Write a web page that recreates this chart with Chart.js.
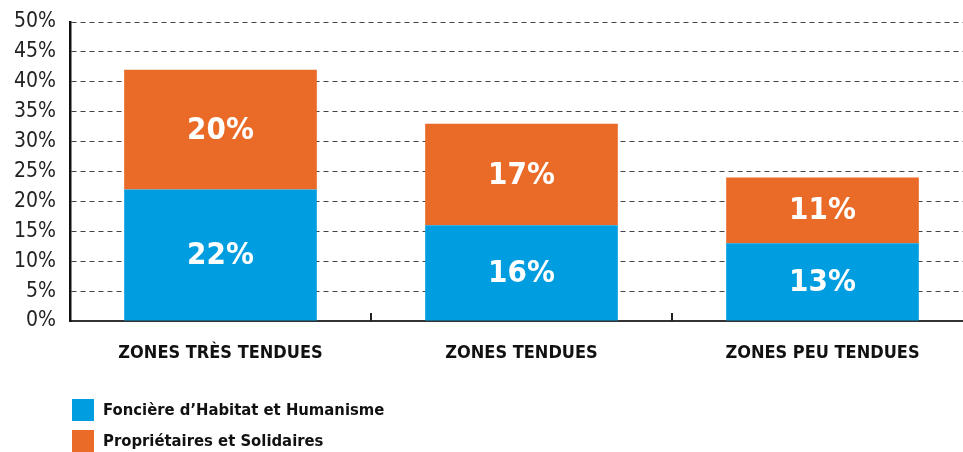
<!DOCTYPE html>
<html>
<head>
<meta charset="utf-8">
<script src="https://cdn.jsdelivr.net/npm/chart.js@4/dist/chart.umd.min.js"></script>
<style>
  html, body { margin: 0; padding: 0; background: #fff; overflow: hidden; }
  #wrap { width: 975px; height: 452px; }
</style>
</head>
<body>
<div id="wrap"><canvas id="chart"></canvas></div>
<script>
const categories = ['ZONES TRÈS TENDUES', 'ZONES TENDUES', 'ZONES PEU TENDUES'];
const foncierValues = [22, 16, 13];
const proprioValues = [20, 17, 11];
const seriesNames = ["Foncière d’Habitat et Humanisme", 'Propriétaires et Solidaires'];
const seriesColors = ['#009ee0', '#ea6a27'];
const yTicks = [0, 5, 10, 15, 20, 25, 30, 35, 40, 45, 50];

const FONT = "'Liberation Sans Narrow', 'DejaVu Sans Condensed', 'Roboto', sans-serif";

// valeurs écrites au centre de chaque segment
const segmentLabels = {
  id: 'segmentLabels',
  afterDatasetsDraw(chart) {
    const ctx = chart.ctx;
    ctx.save();
    ctx.fillStyle = '#fff';
    ctx.font = `bold 31px ${FONT}`;
    ctx.textAlign = 'center';
    ctx.textBaseline = 'middle';
    chart.data.datasets.forEach((ds, di) => {
      chart.getDatasetMeta(di).data.forEach((bar, i) => {
        ctx.fillText(ds.data[i] + '%', bar.x, (bar.y + bar.base) / 2 + 1);
      });
    });
    ctx.restore();
  }
};

// petits traits entre les catégories, tournés vers le haut
const boundaryTicks = {
  id: 'boundaryTicks',
  afterDraw(chart) {
    const x = chart.scales.x, ctx = chart.ctx;
    const bottom = chart.chartArea.bottom;
    ctx.save();
    ctx.strokeStyle = '#222';
    ctx.lineWidth = 2;
    for (let i = 0; i < categories.length - 1; i++) {
      const px = (x.getPixelForValue(i) + x.getPixelForValue(i + 1)) / 2;
      ctx.beginPath();
      ctx.moveTo(px, bottom);
      ctx.lineTo(px, bottom - 8);
      ctx.stroke();
    }
    ctx.restore();
  }
};

// légende verticale en bas à gauche
const stackedLegend = {
  id: 'stackedLegend',
  afterDraw(chart) {
    const ctx = chart.ctx;
    const left = chart.chartArea.left + 2;
    ctx.save();
    ctx.font = `bold 16.5px ${FONT}`;
    ctx.textBaseline = 'middle';
    ctx.textAlign = 'left';
    seriesNames.forEach((name, i) => {
      const cy = 410 + i * 31;
      ctx.fillStyle = seriesColors[i];
      ctx.fillRect(left, cy - 11, 22, 22);
      ctx.fillStyle = '#111';
      ctx.fillText(name, left + 31, cy + 1);
    });
    ctx.restore();
  }
};

new Chart(document.getElementById('chart'), {
  type: 'bar',
  data: {
    labels: categories,
    datasets: [
      { label: seriesNames[0], data: foncierValues, backgroundColor: seriesColors[0] },
      { label: seriesNames[1], data: proprioValues, backgroundColor: seriesColors[1] }
    ]
  },
  options: {
    responsive: true,
    maintainAspectRatio: false,
    animation: false,
    layout: { padding: { top: 22, right: 2, bottom: 81, left: 0 } },
    datasets: { bar: { barPercentage: 0.64, categoryPercentage: 1 } },
    plugins: { legend: { display: false }, tooltip: { enabled: false } },
    scales: {
      x: {
        stacked: true,
        grid: { display: false, drawTicks: false },
        border: { display: true, color: '#333', width: 2 },
        ticks: { color: '#111', padding: 22, font: { family: FONT, size: 18, weight: 'bold' } },
        afterFit(s) { s.height = 50; }
      },
      y: {
        stacked: true,
        min: 0, max: 50,
        afterBuildTicks(s) { s.ticks = yTicks.map(v => ({ value: v })); },
        grid: { color: '#444', lineWidth: 1, drawTicks: false },
        border: { color: '#111', width: 2.5, dash: [5, 4] },
        ticks: {
          color: '#222', padding: 14, autoSkip: false,
          font: { family: FONT, size: 21 },
          callback: v => v + '%'
        },
        afterFit(s) { s.width = 70; s.paddingTop = 0; s.paddingBottom = 0; }
      }
    }
  },
  plugins: [segmentLabels, boundaryTicks, stackedLegend]
});
</script>
</body>
</html>
